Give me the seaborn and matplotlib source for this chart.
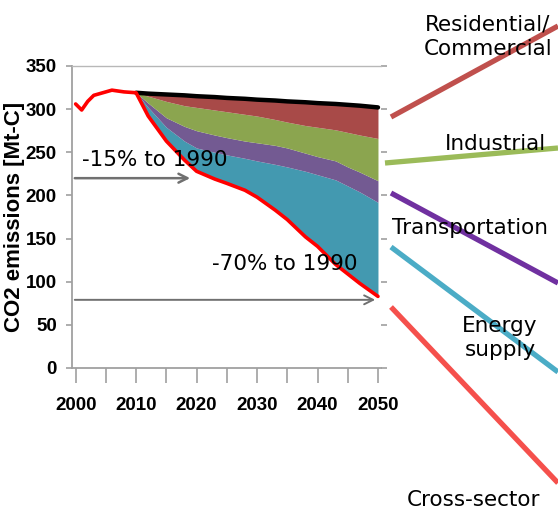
import numpy as np
import pandas as pd
import matplotlib
matplotlib.use('Agg')
import matplotlib.pyplot as plt
from matplotlib.lines import Line2D
from matplotlib.font_manager import FontProperties
import seaborn as sns

# historical emissions (red line before the wedges start)
hist_years = [2000, 2001, 2002, 2003, 2004, 2006, 2008, 2010]
hist_emissions = [306, 299, 309, 316, 318, 322, 320, 319]

# projection years and band boundaries [Mt-C]
proj_years = [2010, 2012, 2015, 2018, 2020, 2023, 2025, 2028, 2030,
              2033, 2035, 2038, 2040, 2043, 2045, 2047, 2050]
emissions = [319, 292, 263, 241, 228, 219, 214, 206, 198,
             183, 172, 152, 141, 120, 109, 98, 83]
energy_top = [319, 302, 279, 263, 255, 250, 247, 243, 240,
              236, 233, 228, 224, 218, 211, 204, 192]
transport_top = [319, 307, 290, 280, 275, 270, 267, 263, 261,
                 258, 255, 249, 245, 240, 233, 227, 217]
industrial_top = [319, 315, 309, 304, 302, 299, 297, 294, 292,
                  288, 285, 281, 279, 276, 273, 270, 266]
baseline = [319, 318, 317, 316, 315, 314, 313, 312, 311,
            310, 309, 308, 307, 306, 305, 304, 302]

band_colors = ['#4399B0', '#735A92', '#8BA54F', '#A84A48']

# labels on the right with their leader lines (pixel coords of the image)
sector_labels = ['Residential/\nCommercial', 'Industrial', 'Transportation',
                 'Energy\nsupply', 'Cross-sector']
leader_colors = ['#C0504D', '#9BBB59', '#7030A0', '#4BACC6', '#F5504C']

W, H = 558, 513

sns.set_style('white')
plt.rcParams['font.family'] = ['DejaVu Sans']
plt.rcParams['text.color'] = 'black'

fig = plt.figure(figsize=(W / 100, H / 100), dpi=100)
ax = fig.add_axes([72 / W, 1 - 368 / H, (381 - 72) / W, (368 - 66) / H])

proj = pd.DataFrame({'year': proj_years, 'emissions': emissions,
                     'energy': energy_top, 'transport': transport_top,
                     'industrial': industrial_top, 'baseline': baseline})
hist = pd.DataFrame({'year': hist_years, 'emissions': hist_emissions})

# stacked wedges between the reduced path and the baseline
bounds = ['emissions', 'energy', 'transport', 'industrial', 'baseline']
for lo, hi, c in zip(bounds[:-1], bounds[1:], band_colors):
    ax.fill_between(proj['year'], proj[lo], proj[hi], color=c, lw=0)

sns.lineplot(data=proj, x='year', y='baseline', color='black', lw=3.2, ax=ax)
full = pd.concat([hist, proj[['year', 'emissions']]]).drop_duplicates('year')
sns.lineplot(data=full, x='year', y='emissions', color='#FF0000', lw=2.6, ax=ax)

# arrows
arrow_kw = dict(arrowstyle='->', color='#707070', lw=1.8, mutation_scale=16)
ax.annotate('', xy=(2019.4, 220), xytext=(1999.4, 220), arrowprops=arrow_kw)
ax.annotate('', xy=(2050, 79), xytext=(1999.4, 79),
            arrowprops=dict(arrow_kw, lw=1.4))
ax.text(2001, 241, '-15% to 1990', fontsize=15.5, va='center', ha='left')
ax.text(2022.5, 120, '-70% to 1990', fontsize=15.5, va='center', ha='left')

ax.set_xlim(1999.4, 2050.5)
ax.set_ylim(0, 350)
ax.set_xticks(range(2000, 2051, 10))
ax.set_xticks(range(2005, 2051, 10), minor=True)
ax.set_yticks(range(0, 351, 50))
ax.set_xlabel('')

label_font = FontProperties(family=['Liberation Sans', 'DejaVu Sans'],
                            weight='bold', size=16)
ax.set_ylabel('CO2 emissions [Mt-C]', fontproperties=label_font, color='black')
ax.yaxis.set_label_coords(-0.152, 0.5)

tick_font = FontProperties(family=['Liberation Sans', 'DejaVu Sans'],
                           weight='bold', size=13.5)
for lab in ax.get_xticklabels() + ax.get_yticklabels():
    lab.set_fontproperties(tick_font)
    lab.set_color('black')

ax.tick_params(axis='x', which='both', direction='out', length=11,
               color='#A0A0A0', width=1.2, pad=10, bottom=True)
ax.tick_params(axis='y', direction='out', length=4, color='#A0A0A0',
               width=1.2, pad=7, left=True, right=True)

for side in ['left', 'bottom']:
    ax.spines[side].set_color('#A0A0A0')
    ax.spines[side].set_linewidth(1.3)
ax.spines['top'].set_color('#B8B8B8')
ax.spines['top'].set_linewidth(1.0)
ax.spines['right'].set_visible(False)

# leader lines and sector labels outside the axes
leader_px = [((391, 117), (558, 26)), ((385, 163), (558, 148)),
             ((391, 193), (558, 283)), ((391, 247), (558, 372)),
             ((391, 307), (558, 483))]
for (p0, p1), c in zip(leader_px, leader_colors):
    fig.add_artist(Line2D([p0[0] / W, p1[0] / W], [1 - p0[1] / H, 1 - p1[1] / H],
                          color=c, lw=3.8, solid_capstyle='butt'))

label_px = [(488, 37), (495, 144), (470, 228), (500, 338), (473, 500)]
for txt, (px, py) in zip(sector_labels, label_px):
    fig.text(px / W, 1 - py / H, txt, fontsize=15.5, ha='center', va='center',
             linespacing=1.25, zorder=5)

fig.savefig('out.png', dpi=100)
